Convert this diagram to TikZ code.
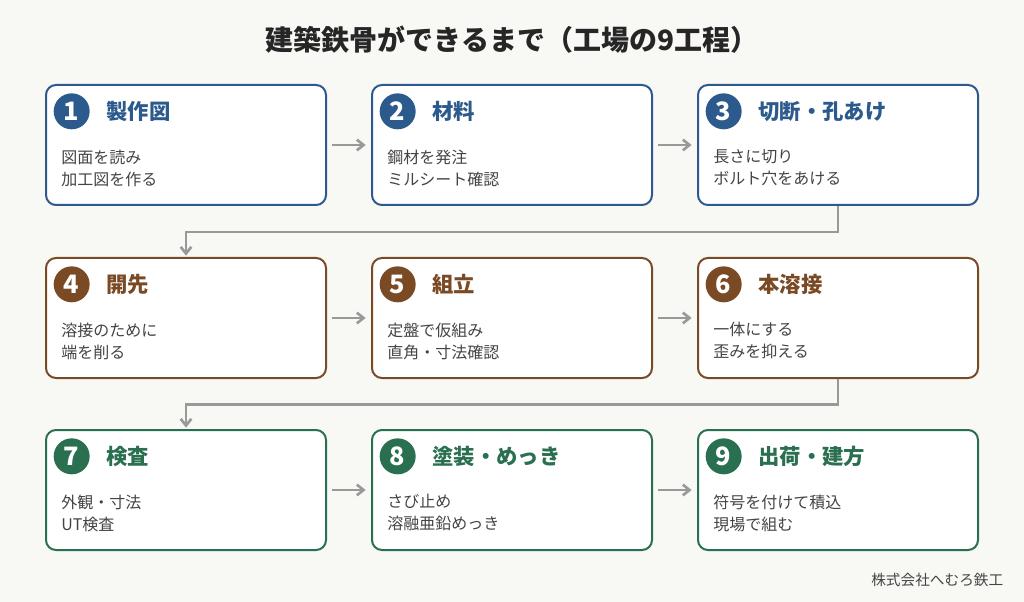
\documentclass[tikz,border=0pt]{standalone}
\usepackage{fontspec}
\setmainfont{Noto Sans CJK JP}
\usetikzlibrary{positioning,arrows.meta}
\definecolor{StepBlue}{HTML}{2D5A8C}
\definecolor{StepBrown}{HTML}{7A4A25}
\definecolor{StepGreen}{HTML}{2A7050}
\definecolor{ArrowGray}{HTML}{999999}
\definecolor{BackGray}{HTML}{F8F8F5}
\definecolor{TextGray}{HTML}{444444}
\tikzset{StepBox/.style={%
    shape=rectangle,%
    draw=#1,%
    fill=white,%
    rounded corners=7.5pt,%
    line width=1.5pt,%
    minimum width=210pt,%
    minimum height=90pt,%
}}
\tikzset{StepNumber/.style={%
    shape=circle,%
    fill=#1,%
    text=white,%
    minimum size=27pt,%
    inner sep=0pt,%
    font=\bfseries\fontsize{19}{19}\selectfont,%
}}
\tikzset{StepTitle/.style={%
    text=#1,%
    anchor=west,%
    font=\bfseries\fontsize{16}{16}\selectfont,%
}}
\tikzset{StepText/.style={%
    text=TextGray,%
    anchor=north west,%
    align=left,%
    inner sep=0pt,%
    font=\fontsize{12}{16.5}\selectfont,%
}}
\tikzset{FlowArrow/.style={%
    -{Straight Barb[length=5pt,width=8pt]},%
    draw=ArrowGray,%
    line width=2pt,%
}}
\NewDocumentCommand{\step}{m m m m m m}{%
    \node[StepBox=#4] (box#1) at (#2,#3) {};
    \node[StepNumber=#4] (num#1) at ([xshift=20pt,yshift=-20.5pt]box#1.north west) {#1};
    \node[StepTitle=#4, right=9pt of num#1] (title#1) {#5};
    \node[StepText] (text#1) at ([xshift=12pt,yshift=-49pt]box#1.north west) {#6};
}

\begin{document}
\begin{tikzpicture}[x=0.75pt,y=-0.75pt]
    \fill[BackGray] (0,0) rectangle (1024,602);
    \useasboundingbox (0,0) rectangle (1024,602);
    \node[font=\bfseries\fontsize{21}{21}\selectfont, text=black!85] (title) at (512,40) {建築鉄骨ができるまで（工場の9工程）};

    \step{1}{186}{145}{StepBlue}{製作図}{図面を読み\\加工図を作る}
    \step{2}{512}{145}{StepBlue}{材料}{鋼材を発注\\ミルシート確認}
    \step{3}{838}{145}{StepBlue}{切断・孔あけ}{長さに切り\\ボルト穴をあける}
    \step{4}{186}{318}{StepBrown}{開先}{溶接のために\\端を削る}
    \step{5}{512}{318}{StepBrown}{組立}{定盤で仮組み\\直角・寸法確認}
    \step{6}{838}{318}{StepBrown}{本溶接}{一体にする\\歪みを抑える}
    \step{7}{186}{490}{StepGreen}{検査}{外観・寸法\\UT検査}
    \step{8}{512}{490}{StepGreen}{塗装・めっき}{さび止め\\溶融亜鉛めっき}
    \step{9}{838}{490}{StepGreen}{出荷・建方}{符号を付けて積込\\現場で組む}

    \draw[FlowArrow] ([xshift=4pt]box1.east) -- ([xshift=-4pt]box2.west);
    \draw[FlowArrow] ([xshift=4pt]box2.east) -- ([xshift=-4pt]box3.west);
    \draw[FlowArrow] ([xshift=4pt]box4.east) -- ([xshift=-4pt]box5.west);
    \draw[FlowArrow] ([xshift=4pt]box5.east) -- ([xshift=-4pt]box6.west);
    \draw[FlowArrow] ([xshift=4pt]box7.east) -- ([xshift=-4pt]box8.west);
    \draw[FlowArrow] ([xshift=4pt]box8.east) -- ([xshift=-4pt]box9.west);
    \draw[FlowArrow] (box3.south) -- ++(0,-19.5pt) -| ([yshift=1pt]box4.north);
    \draw[FlowArrow] (box6.south) -- ++(0,-19pt) -| ([yshift=1pt]box7.north);

    \node[anchor=east, text=TextGray, font=\fontsize{11}{11}\selectfont] (maker) at (1008,580) {株式会社へむろ鉄工};
\end{tikzpicture}
\end{document}
